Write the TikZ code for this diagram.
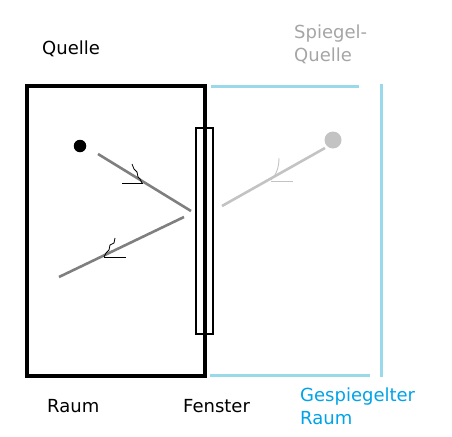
\documentclass[tikz,border=0pt]{standalone}
\usepackage{fontspec}
\setmainfont{DejaVu Sans}
\definecolor{mirrorblue}{RGB}{153,217,234}
\definecolor{textblue}{RGB}{0,162,232}
\definecolor{raygray}{RGB}{127,127,127}
\definecolor{ghostgray}{RGB}{195,195,195}
\definecolor{labelgray}{RGB}{165,165,165}
\begin{document}
\begin{tikzpicture}[x=1pt,y=-1pt,
  lbl/.style={anchor=base west,inner sep=0pt,align=left,font=\fontsize{18}{23}\selectfont},
  wall/.style={line width=4pt},
  mirror/.style={draw=mirrorblue,line width=3pt},
  ray/.style={draw=raygray,line width=2.6pt},
  ghostray/.style={draw=ghostgray,line width=2.6pt},
  handmark/.style={draw=black,line width=0.8pt},
  ghostmark/.style={draw=ghostgray,line width=0.9pt}]
\useasboundingbox (0,0) rectangle (452,436);
% room
\draw[wall] (27,86) rectangle (204.5,376);
% window
\draw[line width=2pt] (196,128) rectangle (213,334);
% mirrored room
\coordinate (mt1) at (211,86); \coordinate (mt2) at (359,86);
\coordinate (mr1) at (381.5,84); \coordinate (mr2) at (381.5,377);
\coordinate (mb1) at (210,375.5); \coordinate (mb2) at (370,375.5);
\draw[mirror] (mt1) -- (mt2);
\draw[mirror] (mr1) -- (mr2);
\draw[mirror] (mb1) -- (mb2);
% source
\node[circle,fill=black,inner sep=0pt,minimum size=12.5pt] (src) at (80,146) {};
\coordinate (r1a) at (98,154); \coordinate (r1b) at (191,211);
\coordinate (r2a) at (184,217); \coordinate (r2b) at (59,277);
\draw[ray] (r1a) -- (r1b);
\draw[ray] (r2a) -- (r2b);
% hand drawn arrow marks
\draw[handmark] (132,164) -- (134,169) -- (137,172) -- (138,177) -- (140,179) -- (142,183);
\draw[handmark] (122,183) -- (143,183);
\draw[handmark] (115,238) -- (114,243) -- (110,245) -- (109,250) -- (106,253) -- (104,257);
\draw[handmark] (104,257) -- (126,257);
% mirror source
\node[circle,fill=ghostgray,inner sep=0pt,minimum size=17pt] (msrc) at (333,140) {};
\coordinate (g1a) at (325,148); \coordinate (g1b) at (222,206);
\draw[ghostray] (g1a) -- (g1b);
\draw[ghostmark] (279,158) .. controls (279,168) and (276,175) .. (271,180);
\draw[ghostmark] (271,181) -- (293,181);
% labels
\node[lbl] (quelle) at (42,55) {Quelle};
\node[lbl,text=labelgray] (squelle) at (294,61) {Spiegel-\\Quelle};
\node[lbl] (raum) at (47,412) {Raum};
\node[lbl] (fenster) at (183,412) {Fenster};
\node[lbl,text=textblue] (graum) at (300,424) {Gespiegelter\\Raum};
\end{tikzpicture}
\end{document}
